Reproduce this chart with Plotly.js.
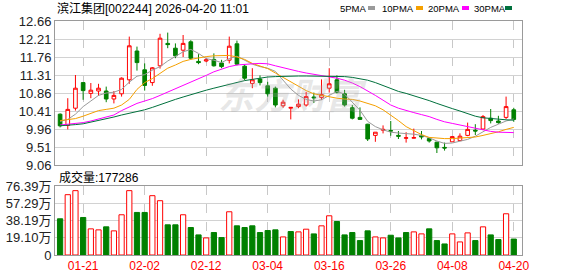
<!DOCTYPE html>
<html>
<head>
<meta charset="utf-8">
<script src="https://cdn.plot.ly/plotly-3.0.1.min.js"></script>
<style>html,body{margin:0;padding:0;background:#fff}#chart{width:578px;height:276px}</style>
</head>
<body>
<div id="chart"></div>
<script>
// ---- data ----
const dates = ["01-16","01-19","01-20","01-21","01-22","01-23","01-26","01-27","01-28","01-29",
 "01-30","02-02","02-03","02-04","02-05","02-06","02-09","02-10","02-11","02-12",
 "02-13","02-24","02-25","02-26","02-27","03-02","03-03","03-04","03-05","03-06",
 "03-09","03-10","03-11","03-12","03-13","03-16","03-17","03-18","03-19","03-20",
 "03-23","03-24","03-25","03-26","03-27","03-30","03-31","04-01","04-02","04-03",
 "04-07","04-08","04-09","04-10","04-13","04-14","04-15","04-16","04-17","04-20"];
const tickDates = ["01-21","02-02","02-12","03-04","03-16","03-26","04-08","04-20"];

const open  = [10.33,10.05,10.48,11.12,10.85,10.91,10.91,10.71,10.84,11.19,
 11.91,11.44,11.12,11.54,12.10,11.98,11.93,12.14,11.65,11.66,
 11.70,11.61,11.68,12.09,11.53,11.10,11.21,11.04,10.98,10.54,
 10.48,10.52,10.56,10.76,10.75,10.98,11.19,10.84,10.49,10.25,
 10.08,9.80,9.93,9.92,9.80,9.73,9.73,9.80,9.72,9.63,
 9.50,9.64,9.67,9.80,9.93,9.96,10.23,10.16,10.25,10.44];
const high  = [10.35,10.73,11.31,11.12,11.11,11.09,11.02,10.91,11.25,12.27,
 12.02,11.60,11.51,12.34,12.37,12.10,12.31,12.18,11.83,11.74,
 11.85,11.69,12.27,12.17,11.57,11.48,11.30,11.14,11.02,10.69,
 10.51,10.70,10.89,10.87,11.20,11.48,11.30,10.94,10.56,10.50,
 10.09,9.88,10.05,10.16,9.91,9.88,9.97,9.91,9.75,9.64,
 9.62,9.78,9.85,10.12,10.08,10.31,10.46,10.29,10.77,10.49];
const low   = [10.00,9.95,10.42,10.69,10.73,10.79,10.63,10.60,10.77,11.09,
 11.42,10.92,11.04,11.47,11.98,11.73,11.76,11.69,11.58,11.63,
 11.52,11.48,11.60,11.55,11.18,10.98,11.05,10.77,10.50,10.49,
 10.20,10.48,10.52,10.61,10.69,10.87,10.85,10.52,10.20,10.19,
 9.66,9.64,9.85,9.79,9.71,9.62,9.72,9.70,9.62,9.36,
 9.42,9.64,9.66,9.78,9.81,9.94,10.10,10.09,10.21,10.14];
const close = [10.04,10.45,10.98,10.92,10.93,10.98,10.71,10.80,11.23,12.04,
 11.62,11.05,11.49,12.23,12.07,11.79,12.10,11.73,11.62,11.69,
 11.54,11.52,12.03,11.58,11.23,11.19,11.12,10.84,10.56,10.63,
 10.50,10.58,10.77,10.74,10.82,11.09,10.88,10.56,10.23,10.20,
 9.71,9.88,9.95,9.91,9.78,9.74,9.745,9.76,9.66,9.49,
 9.485,9.77,9.78,9.95,9.91,10.27,10.17,10.12,10.52,10.20];
const volume = [40.24,67.07,71.55,41.73,29.07,27.95,31.30,26.83,44.72,71.55,
 47.32,47.32,65.96,60.37,33.54,33.54,44.72,30.56,22.36,19.00,
 24.97,19.38,48.07,32.42,30.56,32.42,24.97,27.20,27.95,20.12,
 26.08,25.71,28.69,23.48,32.42,43.60,37.26,22.36,24.97,16.02,
 26.83,20.12,19.00,21.99,19.00,24.97,25.71,23.48,29.07,16.02,
 12.30,23.48,14.53,24.59,16.02,31.30,22.36,17.14,45.83,17.73];
const ma5  = [10.15,10.20,10.33,10.52,10.66,10.80,10.86,10.88,10.95,11.13,
 11.28,11.32,11.43,11.52,11.66,11.78,11.89,11.95,11.85,11.72,
 11.68,11.62,11.72,11.78,11.68,11.58,11.52,11.48,11.40,11.18,
 10.96,10.80,10.70,10.66,10.69,10.80,10.90,10.83,10.64,10.43,
 10.15,10.02,9.94,9.88,9.86,9.85,9.83,9.80,9.74,9.66,
 9.60,9.61,9.65,9.70,9.78,9.90,10.00,10.08,10.16,10.21];
const ma10 = [10.17,10.19,10.22,10.28,10.36,10.42,10.45,10.48,10.56,10.70,
 10.95,11.12,11.22,11.36,11.48,11.56,11.65,11.70,11.74,11.77,
 11.79,11.80,11.80,11.76,11.70,11.60,11.53,11.47,11.36,11.25,
 11.12,11.02,10.92,10.84,10.80,10.76,10.73,10.71,10.70,10.66,
 10.60,10.54,10.44,10.31,10.17,10.02,9.91,9.82,9.75,9.73,
 9.72,9.72,9.73,9.75,9.76,9.80,9.84,9.89,9.95,10.00];
const ma20 = [10.06,10.08,10.10,10.12,10.16,10.21,10.26,10.31,10.42,10.52,
 10.60,10.66,10.72,10.80,10.88,10.97,11.05,11.13,11.20,11.30,
 11.39,11.45,11.52,11.56,11.58,11.59,11.60,11.59,11.54,11.49,
 11.45,11.40,11.36,11.33,11.30,11.27,11.23,11.18,11.11,11.02,
 10.92,10.80,10.68,10.56,10.48,10.42,10.37,10.32,10.27,10.20,
 10.14,10.10,10.06,10.01,9.97,9.93,9.90,9.88,9.87,9.87];
const ma30 = [10.04,10.05,10.07,10.09,10.13,10.17,10.21,10.26,10.31,10.35,
 10.39,10.44,10.50,10.57,10.64,10.70,10.76,10.82,10.88,10.93,
 10.98,11.03,11.08,11.13,11.17,11.20,11.23,11.26,11.27,11.28,
 11.28,11.285,11.285,11.285,11.285,11.285,11.28,11.27,11.25,11.22,
 11.18,11.12,11.05,10.97,10.90,10.85,10.79,10.74,10.67,10.60,
 10.53,10.47,10.41,10.34,10.28,10.24,10.22,10.20,10.19,10.18];
const priceTicks = [9.06,9.51,9.96,10.41,10.86,11.31,11.76,12.21,12.66];
const volTicks = [0,19.10,38.19,57.29,76.39];
const volTickText = ["0","19.10万","38.19万","57.29万","76.39万"];
const maNames = ["5PMA","10PMA","20PMA","30PMA"];
const lastVolume = 177286;
const titleText = "滨江集团[002244] 2026-04-20 11:01";

// ---- styles ----
const RED = "#ff0000", GREEN = "#008000";
const maColors = ["#9a9a9a","#f5a000","#ff00ff","#00703c"];
const FONT = "Liberation Sans, Arial, Noto Sans CJK SC, sans-serif";

const up = close.map((c,i)=> i===0 ? c>=open[i] : c>=close[i-1]);
const volFill = up.map(u=> u ? "#ffffff" : GREEN);
const volLine = up.map(u=> u ? RED : GREEN);

const traces = [
 {type:"candlestick", x:dates, open:open, high:high, low:low, close:close,
  xaxis:"x", yaxis:"y",
  increasing:{line:{color:RED,width:1}, fillcolor:"#ffffff"},
  decreasing:{line:{color:GREEN,width:1}, fillcolor:GREEN},
  whiskerwidth:0, hoverinfo:"skip"}
];
[ma5,ma10,ma20,ma30].forEach((m,k)=>{
  traces.push({type:"scatter", mode:"lines", x:dates, y:m, xaxis:"x", yaxis:"y",
    line:{color:maColors[k], width:1}, hoverinfo:"skip"});
});
traces.push({type:"bar", x:dates, y:volume, xaxis:"x2", yaxis:"y2",
  marker:{color:volFill, line:{color:volLine, width:1}}, hoverinfo:"skip"});

const W = 578, H = 276, L = 55, R = 56, T = 21, B = 21;
const pw = W-L-R, ph = H-T-B;
const px = v => (v-L)/pw;
const py = v => (H-B-v)/ph;

const commonX = {type:"category", categoryorder:"array", categoryarray:dates,
  range:[-0.66,60.07], tickmode:"array", tickvals:tickDates,
  showgrid:true, gridcolor:"#c8c8c8", griddash:"dash", gridwidth:1,
  showline:true, mirror:true, linecolor:"#9a9a9a", linewidth:1,
  zeroline:false, ticks:"", fixedrange:true};

const annotations = [
  {text:titleText, xref:"paper", yref:"paper", x:px(55), y:py(9), xanchor:"left", yanchor:"middle",
   showarrow:false, font:{size:12, color:"#000", family:FONT}},
  {text:"成交量:"+lastVolume, xref:"paper", yref:"paper", x:px(57), y:py(177), xanchor:"left", yanchor:"middle",
   showarrow:false, font:{size:12, color:"#000", family:FONT}},
  {text:"<b><i>东方财富</i></b>", xref:"paper", yref:"paper", x:px(292), y:py(93), xanchor:"center", yanchor:"middle",
   showarrow:false, font:{size:36, color:"rgba(170,170,170,0.28)", family:"Noto Sans CJK SC"}}
];
const legX = [338,380,426,472];
const sqX = [368,416,462,505];
const shapes = [];
maNames.forEach((n,k)=>{
  annotations.push({text:n, xref:"paper", yref:"paper", x:px(legX[k]), y:py(9), xanchor:"left", yanchor:"middle",
    showarrow:false, font:{size:9.5, color:"#000", family:FONT}});
  shapes.push({type:"rect", xref:"paper", yref:"paper", x0:px(sqX[k]), x1:px(sqX[k]+7),
    y0:py(10), y1:py(6), fillcolor:maColors[k], line:{width:0}});
});

const layout = {
  width:W, height:H, margin:{l:L, r:R, t:T, b:B, pad:0},
  paper_bgcolor:"#ffffff", plot_bgcolor:"#ffffff",
  showlegend:false, bargap:0.32, boxgap:0.32,
  font:{family:FONT, size:12, color:"#222"},
  xaxis:Object.assign({}, commonX, {anchor:"y", showticklabels:false, rangeslider:{visible:false}}),
  xaxis2:Object.assign({}, commonX, {anchor:"y2", matches:"x", showticklabels:true,
     tickfont:{size:12, color:RED, family:FONT}}),
  yaxis:{domain:[py(165),1], range:[9.06,12.66], tickmode:"array", tickvals:priceTicks,
     ticktext:priceTicks.map(v=>v.toFixed(2)), tickfont:{size:13, color:"#222", family:FONT},
     showgrid:true, gridcolor:"#d2d2d2", gridwidth:1, showline:true, mirror:true,
     linecolor:"#9a9a9a", linewidth:1, zeroline:false, ticks:"", fixedrange:true},
  yaxis2:{domain:[0,py(186.3)], range:[0,76.39], tickmode:"array", tickvals:volTicks,
     ticktext:volTickText, tickfont:{size:13, color:"#222", family:FONT},
     showgrid:true, gridcolor:"#d2d2d2", gridwidth:1, showline:true, mirror:true,
     linecolor:"#9a9a9a", linewidth:1, zeroline:false, ticks:"", fixedrange:true},
  annotations:annotations, shapes:shapes
};

Plotly.newPlot("chart", traces, layout, {staticPlot:true, displayModeBar:false});
</script>
</body>
</html>
